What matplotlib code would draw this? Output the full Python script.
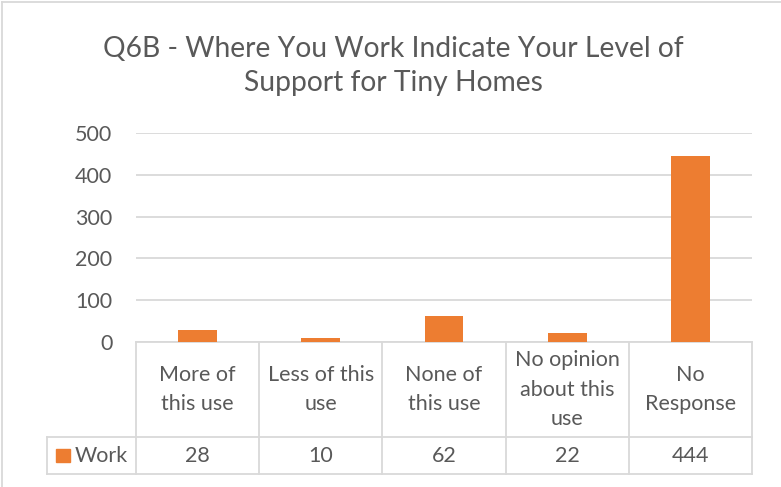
import matplotlib.pyplot as plt
import numpy as np

categories = ['More of\nthis use', 'Less of this\nuse', 'None of\nthis use',
              'No opinion\nabout this\nuse', 'No\nResponse']
work = [28, 10, 62, 22, 444]
series_name = 'Work'
yticks = [0, 100, 200, 300, 400, 500]

plt.rcParams['font.family'] = ['Lato', 'DejaVu Sans']
text_col = '#595959'
grid_col = '#D9D9D9'
bar_col = '#ED7D31'

W, H = 781, 487
fig = plt.figure(figsize=(W / 100, H / 100), dpi=100)

# plot area in pixels: x 136..752, y 133..342
left, right, top, bottom = 136, 752, 133, 342
ax = fig.add_axes([left / W, 1 - bottom / H, (right - left) / W, (bottom - top) / H])

x = np.arange(len(categories))
ax.bar(x, work, width=0.315, color=bar_col, zorder=3)
ax.set_xlim(-0.5, len(categories) - 0.5)
ax.set_ylim(0, 500)
ax.set_yticks(yticks)
ax.set_yticklabels([str(v) for v in yticks], fontsize=15.5, color=text_col)
ax.tick_params(axis='y', length=0, pad=17)
ax.tick_params(axis='x', length=0, labelbottom=False)
ax.grid(axis='y', color=grid_col, linewidth=1.3, zorder=0)
for s in ['left', 'right', 'top']:
    ax.spines[s].set_visible(False)
ax.spines['bottom'].set_color(grid_col)
ax.spines['bottom'].set_linewidth(1.3)

# data table below the axis (pixel -> figure coords)
def fx(px):
    return px / W

def fy(py):
    return 1 - py / H

row1_bot, row2_bot, key_left = 437, 474, 47
col_w = (right - left) / len(categories)
lkw = dict(color=grid_col, linewidth=1.3, transform=fig.transFigure)
fig.add_artist(plt.Line2D([fx(key_left), fx(right)], [fy(row1_bot)] * 2, **lkw))
fig.add_artist(plt.Line2D([fx(key_left), fx(right)], [fy(row2_bot)] * 2, **lkw))
fig.add_artist(plt.Line2D([fx(key_left)] * 2, [fy(row1_bot), fy(row2_bot)], **lkw))
for i in range(len(categories) + 1):
    xp = left + i * col_w
    fig.add_artist(plt.Line2D([fx(xp)] * 2, [fy(bottom), fy(row2_bot)], **lkw))

for i, (cat, v) in enumerate(zip(categories, work)):
    cx = left + (i + 0.5) * col_w
    fig.text(fx(cx), fy((bottom + row1_bot) / 2), cat, ha='center', va='center',
             fontsize=15.5, color=text_col, linespacing=1.6)
    fig.text(fx(cx), fy((row1_bot + row2_bot) / 2), str(v), ha='center', va='center',
             fontsize=15.5, color=text_col)

# legend key
fig.add_artist(plt.Rectangle((fx(56), fy(462)), 14 / W, 13 / H, color=bar_col,
                             transform=fig.transFigure))
fig.text(fx(75), fy((row1_bot + row2_bot) / 2), series_name, ha='left', va='center',
         fontsize=15.5, color=text_col)

# title
fig.text(fx(393), fy(66), 'Q6B - Where You Work Indicate Your Level of\nSupport for Tiny Homes',
         ha='center', va='center', fontsize=20.3, color=text_col, linespacing=1.34)

# chart border
fig.add_artist(plt.Line2D([fx(2), fx(2)], [fy(2), fy(487)], **lkw))
fig.add_artist(plt.Line2D([fx(2), fx(781)], [fy(2), fy(2)], **lkw))

fig.savefig('out.png', dpi=100)
